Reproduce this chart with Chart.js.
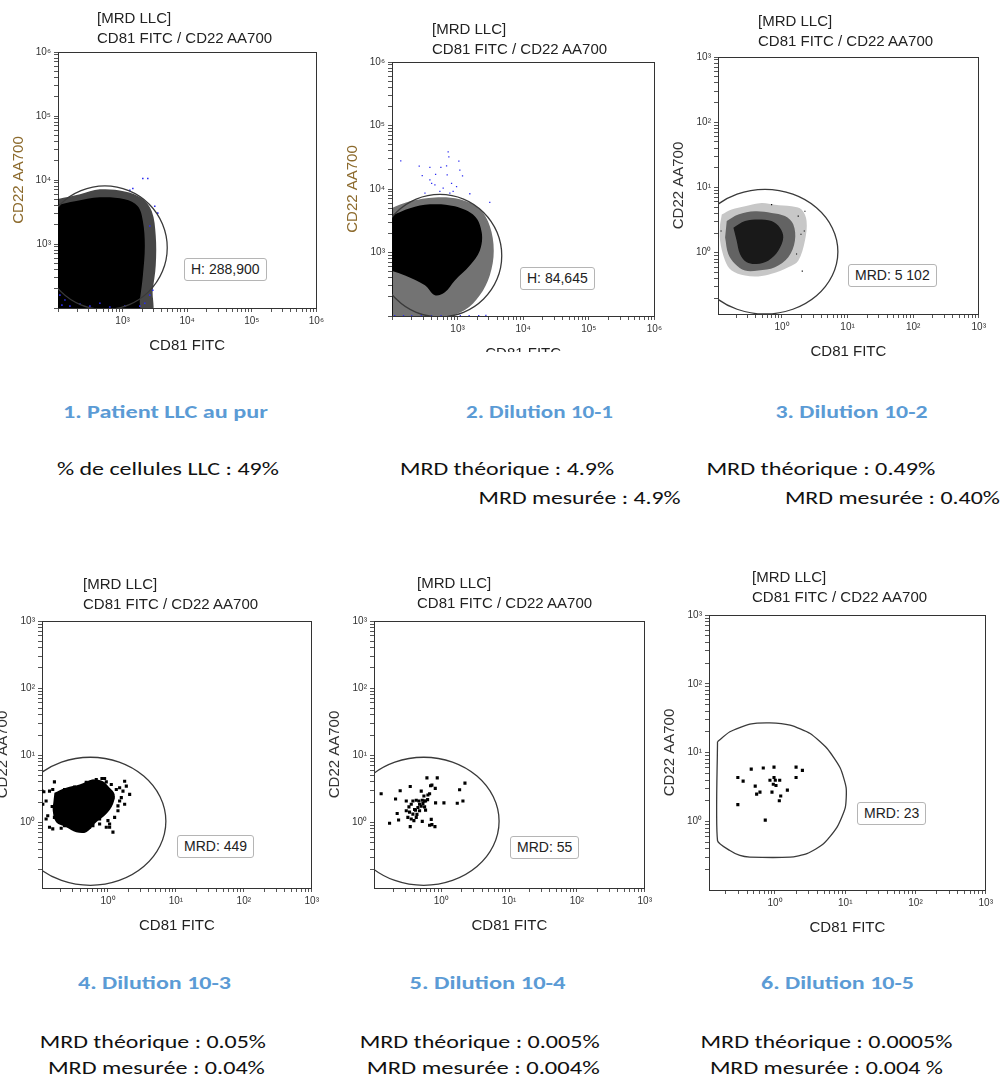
<!DOCTYPE html>
<html>
<head>
<meta charset="utf-8">
<title>MRD LLC - CD81 FITC / CD22 AA700</title>
<script src="https://cdn.jsdelivr.net/npm/chart.js"></script>
<style>
  body { margin: 0; background: #fff; }
  #page { position: relative; width: 1003px; height: 1077px; overflow: hidden; font-family: "Liberation Sans", Arial, sans-serif; }
  canvas { position: absolute; }
  .ptitle { position: absolute; font-size: 15px; line-height: 20px; color: #222; white-space: nowrap; }
  .gatebox { position: absolute; font-size: 14px; color: #222; border: 1px solid #b5b5b5; border-radius: 3px; background: #fff; padding: 0 6px; line-height: 21px; white-space: nowrap; }
  .cap { position: absolute; white-space: nowrap; font-family: Carlito, Calibri, Lato, sans-serif; font-size: 19px; }
  .cap.blue { color: #5b9bd5; font-weight: bold; }
  .cap.txt { color: #111; }
  .cover { position: absolute; background: #fff; }
</style>
</head>
<body>
<div id="page"></div>
<script>
// tick labels
const highTickValues = [1e3, 1e4, 1e5, 1e6];
const highTickLabels = ['10³', '10⁴', '10⁵', '10⁶'];
const lowTickValues = [1, 10, 100, 1000];
const lowTickLabels = ['10⁰', '10¹', '10²', '10³'];

// texts
const plotTitle = ['[MRD LLC]', 'CD81 FITC / CD22 AA700'];
const xTitle = 'CD81 FITC';
const yTitle = 'CD22 AA700';
const gateLabels = ['H: 288,900', 'H: 84,645', 'MRD: 5 102', 'MRD: 449', 'MRD: 55', 'MRD: 23'];
const captions = ['1. Patient LLC au pur', '2. Dilution 10-1', '3. Dilution 10-2',
                  '4. Dilution 10-3', '5. Dilution 10-4', '6. Dilution 10-5'];
const notes = ['% de cellules LLC : 49%',
  'MRD théorique : 4.9%', 'MRD mesurée : 4.9%',
  'MRD théorique : 0.49%', 'MRD mesurée : 0.40%',
  'MRD théorique : 0.05%', 'MRD mesurée : 0.04%',
  'MRD théorique : 0.005%', 'MRD mesurée : 0.004%',
  'MRD théorique : 0.0005%', 'MRD mesurée : 0.004 %'];

// panel 1 (x, y)
const p1Gate = [[57.6,875],[68.3,374],[110,182],[227,112],[532,94.8],[1245,112],[2562,182],[4140,374],[4911,875],
  [4140,2048],[2562,4214],[1245,6810],[532,8077],[227,6810],[110,4214],[68.3,2048],[57.6,875]];
const p1Core = [[80,3900],[183,4660],[445,5370],[1080,5000],[1720,3900],[2060,2290],[2210,940],[2060,320],
  [1850,133],[1720,80],[80,80]];
const p1Halo = [[80,4830],[219,5970],[445,7140],[1080,6640],[1980,5180],[2830,3260],[3260,1340],[3260,460],
  [2930,190],[2640,80],[80,80]];
const p1Blue = [[2055,10550],[2455,10550],[1440,7390],[1295,6885],[3148,3896],[3503,3038],[2635,1914],[2933,190],
  [2635,159],[2206,119],[1847,107],[115,111],[128,133],[107,159],[153,107],[219,115],[312,107],[635,104],[1083,107],[445,119]];

// panel 2
const p2Gate = [[61.2,890],[72.2,381],[116,185],[234,114],[537,96.5],[1232,114],[2490,185],[3996,381],[4710,890],
  [3996,2081],[2490,4277],[1232,6937],[537,8212],[234,6937],[116,4277],[72.2,2081],[61.2,890]];
const p2Core = [[95,3730],[188,4970],[378,5740],[908,5340],[1830,3730],[2340,2030],[2180,1065],[1536,622],
  [908,363],[640,236],[451,212],[318,304],[158,435],[95,520]];
const p2Halo = [[90,4800],[188,6390],[451,7380],[1082,6870],[2180,4800],[3094,2610],[3560,1065],[3094,435],
  [2180,212],[1289,124],[537,90],[188,90],[90,90]];
const p2Blue = [[136,27770],[260,22970],[378,21840],[289,16230],[402,12310],[462,17000],[556,21840],[718,38350],
  [736,32050],[679,23220],[694,16630],[809,12310],[1045,27470],[1082,19900],[1189,16050],[964,10940],[855,9144],
  [1536,8421],[3094,6165],[603,10290],[451,11630],[318,8603],[378,13910],[762,8603],[537,9144],
  [110,101],[150,101],[200,101],[280,101],[400,101],[560,101],[800,101],[1100,101],[1500,101],[2100,101],[2700,102]];

// panels 3-5 share one gate
const gateLow = [[0.0427,1.035],[0.0519,0.447],[0.0903,0.219],[0.207,0.136],[0.551,0.115],[1.465,0.136],[3.36,0.219],
  [5.85,0.447],[7.12,1.035],[5.85,2.40],[3.36,4.89],[1.465,7.89],[0.551,9.33],[0.207,7.89],[0.0903,4.89],[0.0519,2.40],[0.0427,1.035]];

// panel 3
const p3Outer = [[0.121,3.85],[0.171,4.59],[0.273,5.15],[0.490,5.79],[0.782,5.46],[1.403,5.15],[1.992,4.59],[2.374,3.05],
  [2.239,1.52],[1.773,0.756],[1.249,0.600],[0.696,0.475],[0.436,0.433],[0.273,0.448],[0.171,0.534],[0.136,0.756],[0.114,1.52],[0.114,2.72]];
const p3Mid = [[0.144,3.05],[0.216,3.85],[0.388,4.33],[0.696,4.08],[1.111,3.64],[1.488,2.72],[1.577,1.52],[1.249,0.850],
  [0.782,0.600],[0.436,0.534],[0.273,0.534],[0.193,0.674],[0.152,0.954],[0.136,1.71]];
const p3Core = [[0.182,2.42],[0.273,3.05],[0.436,3.24],[0.696,3.05],[0.932,2.42],[1.048,1.71],[0.880,1.072],[0.619,0.756],
  [0.412,0.674],[0.290,0.714],[0.229,0.954],[0.204,1.52]];
const p3Sparse = [[2.04,0.522],[2.24,4.33],[1.95,1.92],[2.19,2.15],[1.77,3.64],[0.118,2.15],[1.67,0.954],[0.696,5.46]];

// panel 4
const p4Core = [[0.163,2.76],[0.243,3.27],[0.382,3.66],[0.601,4.34],[0.844,4.10],[1.058,3.27],[1.254,2.61],[1.185,1.86],
  [0.945,1.326],[0.673,1.0],[0.479,0.713],[0.341,0.713],[0.243,0.844],[0.173,1.0],[0.154,1.484],[0.158,2.08]];
const p4Cells = [[0.114,2.86],[0.138,2.92],[0.163,4.01],[0.123,1.12],[0.138,0.844],[0.154,0.798],[0.205,0.816],[0.230,0.893],
  [0.123,2.08],[0.173,1.86],[0.288,0.945],[0.453,0.754],[0.382,0.754],[0.601,0.893],[0.754,0.945],[0.945,0.844],
  [1.058,0.844],[1.185,0.713],[1.0,1.058],[1.254,1.184],[1.404,1.484],[1.486,2.08],[1.573,2.33],[1.664,2.92],
  [1.761,4.10],[1.864,3.46],[2.087,2.61],[1.761,1.86],[1.327,3.09],[1.12,3.66],[0.945,4.01],[0.893,4.49],
  [0.673,4.34],[0.601,4.10],[0.636,3.35],[0.468,3.58],[0.322,3.35],[0.230,3.09],[0.194,2.76],[0.173,2.33],
  [0.205,1.484],[0.272,1.184],[0.382,0.844],[0.537,0.844],[0.754,1.119],[1.404,1.758],[1.185,2.33],[1.486,3.27],
  [0.816,4.49],[0.479,3.96],[0.361,3.27],[0.110,1.86],[0.151,1.72],[0.163,1.184],[0.189,1.082],[0.243,1.484],
  [0.107,2.92],[0.130,1.253],[0.154,3.09],[1.058,0.945]];

// panel 5
const p5Cells = [[0.130,2.67],[0.212,2.23],[0.248,2.95],[0.349,3.42],[0.224,1.356],[0.235,1.082],[0.173,0.967],[0.349,0.864],
  [0.305,2.08],[0.334,1.70],[0.361,1.86],[0.382,2.08],[0.428,2.13],[0.404,1.553],[0.453,1.662],[0.341,1.419],
  [0.382,1.326],[0.418,1.518],[0.479,1.484],[0.507,1.739],[0.537,1.904],[0.587,2.08],[0.525,2.13],[0.629,2.18],
  [0.636,2.55],[0.673,2.67],[0.615,4.59],[0.873,4.59],[0.696,3.50],[0.728,3.58],[0.816,3.20],[0.562,2.08],
  [0.568,1.70],[0.479,1.86],[0.428,1.184],[0.361,1.119],[0.525,1.034],[0.587,1.518],[0.712,1.107],[0.728,0.924],
  [0.673,0.903],[0.807,0.864],[0.825,1.946],[1.095,1.946],[1.722,1.925],[2.087,2.08],[1.864,3.06],[2.235,3.83],
  [0.395,1.058],[0.438,1.311],[0.305,1.484],[0.322,1.184],[0.468,2.08],[0.507,2.92],[0.555,2.47]];

// panel 6
const p6Gate = [[0.152,14.44],[0.228,20.1],[0.439,25.9],[0.848,27.1],[1.638,25.1],[3.16,19.0],[5.48,11.57],[8.48,5.97],
  [10.3,3.08],[10.0,1.59],[7.61,0.82],[4.90,0.473],[2.84,0.34],[1.64,0.304],[0.439,0.304],[0.316,0.321],
  [0.228,0.378],[0.152,0.528],[0.152,14.44]];
const p6Cells = [[0.459,5.77],[0.681,5.97],[0.968,6.17],[1.995,6.17],[2.455,5.53],[0.296,4.35],[0.352,3.85],[0.968,4.35],
  [0.848,3.97],[1.01,3.97],[1.167,3.97],[1.995,4.35],[0.523,3.26],[0.946,3.48],[1.033,3.33],[1.50,2.85],
  [0.611,2.67],[0.548,2.50],[0.906,2.67],[1.206,2.34],[1.152,2.00],[0.296,1.755],[0.727,1.047]];

const page = document.getElementById('page');
const pts = a => a.map(p => ({ x: p[0], y: p[1] }));
const tan = '#8c6a2c';
const blue = '#2b2bf0';

const gate = (d, t) => ({ data: pts(d), showLine: true, pointRadius: 0, borderColor: '#3a3a3a', borderWidth: 1.3, tension: t, fill: false });
const cloud = (d, c) => ({ data: pts(d), showLine: true, pointRadius: 0, borderWidth: 0, borderColor: c, backgroundColor: c,
  fill: 'shape', indexAxis: 'y', tension: 0.35 });
const dots = (d, c, r) => ({ data: pts(d), showLine: false, pointStyle: 'rect', pointRadius: r, pointBorderWidth: 0,
  pointBackgroundColor: c, backgroundColor: c, borderColor: c });

function tickList(min, max) {
  const out = [];
  for (let e = Math.floor(Math.log10(min)); e < Math.round(Math.log10(max)); e++) {
    for (let m = 1; m < 10; m++) out.push(m * Math.pow(10, e));
  }
  out.push(max);
  return out.filter(v => v >= min * 0.999 && v <= max * 1.001);
}

function logAxis(axis, range, vals, labels, title, color) {
  const list = tickList(range[0], range[1]);
  return {
    type: 'logarithmic', position: axis === 'x' ? 'bottom' : 'left', min: range[0], max: range[1],
    afterBuildTicks: s => { s.ticks = list.map(v => ({ value: v })); },
    afterFit: s => { if (axis === 'x') s.height = 50; else s.width = 50; },
    border: { display: true, color: '#333', width: 1 },
    grid: { drawOnChartArea: false, drawTicks: true, tickLength: 4, color: '#555', lineWidth: 1 },
    ticks: {
      autoSkip: false, maxRotation: 0, minRotation: 0, padding: 3, color: '#333',
      font: { family: 'Liberation Sans', size: 10 },
      callback: v => {
        const i = vals.findIndex(t => Math.abs(Math.log10(t) - Math.log10(v)) < 1e-6);
        return i < 0 ? '' : labels[i];
      }
    },
    title: { display: true, text: title, color: color, font: { family: 'Liberation Sans', size: 15 },
      padding: axis === 'x' ? { top: 0, bottom: 3 } : { top: 2, bottom: 0 } }
  };
}

function frameAxis(pos) {
  return {
    type: 'linear', position: pos, min: 0, max: 1,
    afterFit: s => { if (pos === 'top') s.height = 0; else s.width = 0; },
    ticks: { display: false },
    grid: { display: true, drawOnChartArea: false, drawTicks: false },
    border: { display: true, color: '#333', width: 1 }
  };
}

const panels = [
  { box: [58, 49, 259, 259], x: [100, 1e6], y: [100, 1e6], hi: true, yc: tan,
    sets: [gate(p1Gate, 0.4), dots(p1Blue, blue, 1.1), cloud(p1Core, '#000'), cloud(p1Halo, 'rgba(0,0,0,0.72)')],
    title: [97, 8], label: [184, 258] },
  { box: [392, 59, 263, 257], x: [100, 1e6], y: [100, 1e6], hi: true, yc: tan,
    sets: [gate(p2Gate, 0.4), dots(p2Blue, blue, 0.9), cloud(p2Core, '#000'), cloud(p2Halo, 'rgba(0,0,0,0.55)')],
    title: [432, 19], label: [520, 267] },
  { box: [718, 54, 261, 260], x: [0.106, 1000], y: [0.115, 1000], hi: false, yc: '#333',
    sets: [gate(gateLow, 0.4), dots(p3Sparse, '#000', 0.8), cloud(p3Core, 'rgba(0,0,0,0.75)'),
           cloud(p3Mid, 'rgba(0,0,0,0.5)'), cloud(p3Outer, 'rgba(0,0,0,0.22)')],
    title: [758, 11], label: [848, 264] },
  { box: [42, 618, 270, 270], x: [0.107, 1000], y: [0.105, 1000], hi: false, yc: '#333',
    sets: [gate(gateLow, 0.4), dots(p4Cells, '#000', 2.2), cloud(p4Core, '#000')],
    title: [83, 574], label: [177, 835] },
  { box: [374, 618, 271, 270], x: [0.102, 1000], y: [0.105, 1000], hi: false, yc: '#333',
    sets: [gate(gateLow, 0.4), dots(p5Cells, '#000', 2.2)],
    title: [417, 573], label: [510, 836] },
  { box: [709, 612, 277, 278], x: [0.115, 1000], y: [0.101, 1000], hi: false, yc: '#333',
    sets: [gate(p6Gate, 0.2), dots(p6Cells, '#000', 2.2)],
    title: [752, 567], label: [857, 802] }
];

panels.forEach((p, i) => {
  const [left, top, w, h] = p.box;
  const c = document.createElement('canvas');
  c.width = w + 60; c.height = h + 56;
  c.style.left = (left - 50) + 'px'; c.style.top = (top - 6) + 'px';
  c.style.width = (w + 60) + 'px'; c.style.height = (h + 56) + 'px';
  page.appendChild(c);
  new Chart(c, {
    type: 'scatter',
    data: { datasets: p.sets },
    options: {
      responsive: false, animation: false, devicePixelRatio: 1,
      layout: { padding: { top: 6, right: 10, left: 0, bottom: 0 } },
      plugins: { legend: { display: false }, tooltip: { enabled: false } },
      elements: { line: { capBezierPoints: false } },
      scales: {
        x: logAxis('x', p.x, p.hi ? highTickValues : lowTickValues, p.hi ? highTickLabels : lowTickLabels, xTitle, '#222'),
        y: logAxis('y', p.y, p.hi ? highTickValues : lowTickValues, p.hi ? highTickLabels : lowTickLabels, yTitle, p.yc),
        x2: frameAxis('top'),
        y2: frameAxis('right')
      }
    }
  });
  const t = document.createElement('div');
  t.className = 'ptitle';
  t.style.left = p.title[0] + 'px'; t.style.top = p.title[1] + 'px';
  t.innerHTML = plotTitle.join('<br>');
  page.appendChild(t);
  const g = document.createElement('div');
  g.className = 'gatebox';
  g.style.left = p.label[0] + 'px'; g.style.top = p.label[1] + 'px';
  g.textContent = gateLabels[i];
  page.appendChild(g);
});

// x title of panel 2 is mostly hidden in the original figure
const cover = document.createElement('div');
cover.className = 'cover';
Object.assign(cover.style, { left: '470px', top: '352px', width: '110px', height: '14px' });
page.appendChild(cover);

// captions: [text, class, centerX, centerY, width]
const capLayout = [
  [captions[0], 'blue', 165, 411, 205], [captions[1], 'blue', 540, 411, 147], [captions[2], 'blue', 852, 411, 152],
  [captions[3], 'blue', 155, 982, 153], [captions[4], 'blue', 488, 982, 156], [captions[5], 'blue', 838, 982, 153],
  [notes[0], 'txt', 168, 468, 222],
  [notes[1], 'txt', 507, 468, 214], [notes[2], 'txt', 580, 497, 202],
  [notes[3], 'txt', 821, 468, 229], [notes[4], 'txt', 892, 497, 215],
  [notes[5], 'txt', 153, 1041, 226], [notes[6], 'txt', 156, 1067, 217],
  [notes[7], 'txt', 480, 1041, 240], [notes[8], 'txt', 483, 1067, 233],
  [notes[9], 'txt', 826, 1041, 252], [notes[10], 'txt', 826, 1067, 233]
];
capLayout.forEach(([text, cls, cx, cy, tw]) => {
  const d = document.createElement('div');
  d.className = 'cap ' + cls;
  d.textContent = text;
  page.appendChild(d);
  const r = d.getBoundingClientRect();
  const sx = tw / r.width;
  d.style.left = (cx - r.width / 2) + 'px';
  d.style.top = (cy - r.height / 2) + 'px';
  d.style.transform = 'scaleX(' + sx.toFixed(3) + ')';
});
</script>
</body>
</html>
